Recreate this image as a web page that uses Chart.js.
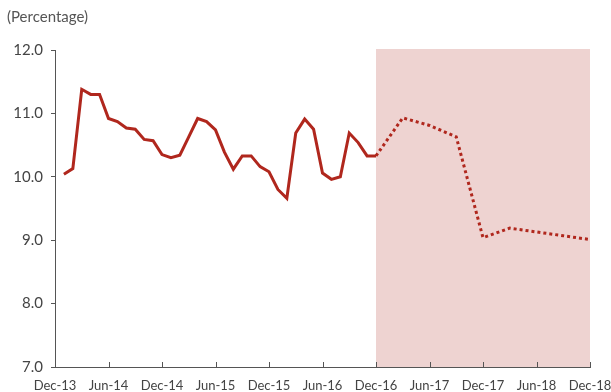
<!DOCTYPE html>
<html lang="en">
<head>
    <meta charset="UTF-8">
    <script src="https://cdn.jsdelivr.net/npm/chart.js"></script>
    <title>chart</title>
    <style>
        body{ margin:0; background:#fff; }
        #chart_area{ width:611px; height:392px; }
    </style>
</head>
<body>
    <div id="chart_area">
        <canvas id="mychart"></canvas>
    </div>
    <script>
        // x = months since Dec-13
        let tickLabels = ["Dec-13","Jun-14","Dec-14","Jun-15","Dec-15","Jun-16","Dec-16","Jun-17","Dec-17","Jun-18","Dec-18"];
        // monthly actuals, Jan-14 .. Dec-16
        let actual = [10.04,10.13,11.38,11.30,11.30,10.92,10.87,10.77,10.75,10.59,10.57,10.35,
                      10.30,10.34,10.63,10.92,10.87,10.74,10.39,10.12,10.33,10.33,10.16,10.08,
                      9.80,9.66,10.69,10.91,10.75,10.06,9.96,10.00,10.69,10.54,10.33,10.33];
        // quarterly projection, Dec-16 .. Dec-18
        let projMonths = [36,39,42,45,48,51,54,57,60];
        let projection = [10.33,10.93,10.81,10.63,9.04,9.19,9.13,9.07,9.01];
        let shadeFrom = 36, shadeTo = 60;

        let lineColor = "#b0271d";
        let axisColor = "#555";

        let extras = {
            id:"extras",
            beforeDatasetsDraw(chart){
                let c = chart.ctx, x = chart.scales.x, a = chart.chartArea;
                c.save();
                c.fillStyle = "#eed3d1";
                let x0 = x.getPixelForValue(shadeFrom), x1 = x.getPixelForValue(shadeTo);
                c.fillRect(x0, a.top - 1, x1 - x0, a.bottom - a.top + 1);
                c.restore();
            },
            afterDraw(chart){
                let c = chart.ctx, x = chart.scales.x, a = chart.chartArea;
                c.save();
                c.strokeStyle = axisColor;
                c.lineWidth = 1;
                for(let m = 6; m <= 60; m += 6){
                    let px = Math.round(x.getPixelForValue(m)) + 0.5;
                    c.beginPath();
                    c.moveTo(px, a.bottom);
                    c.lineTo(px, a.bottom - 5);
                    c.stroke();
                }
                c.fillStyle = "#555";
                c.font = "15px Lato";
                c.textBaseline = "middle";
                c.fillText("(Percentage)", 7, 17);
                c.restore();
            }
        };

        let config = {
            type:"line",
            data:{
                datasets:[
                {
                    data: actual.map((v,i)=>({x:i+1, y:v})),
                    borderColor: lineColor,
                    borderWidth: 3,
                    pointRadius: 0,
                    tension: 0,
                },
                {
                    data: projMonths.map((m,i)=>({x:m, y:projection[i]})),
                    borderColor: lineColor,
                    borderWidth: 3,
                    borderDash: [3,3],
                    borderCapStyle: "butt",
                    pointRadius: 0,
                    tension: 0,
                }]
            },
            options:{
                responsive:true,
                maintainAspectRatio:false,
                animation:false,
                layout:{ padding:{ top:50, right:21, left:0, bottom:0 } },
                plugins:{ legend:{ display:false }, tooltip:{ enabled:false } },
                scales:{
                    x:{
                        type:"linear", min:0, max:60,
                        afterFit(s){ s.height = 25; s.paddingRight = 0; s.paddingLeft = 0; },
                        border:{ display:true, color:axisColor, width:1 },
                        grid:{ display:false },
                        afterBuildTicks(s){ s.ticks = tickLabels.map((t,i)=>({value:i*6})); },
                        ticks:{
                            autoSkip:false, maxRotation:0, padding:3,
                            color:"#444", font:{ family:"Lato", size:13 },
                            callback:(v)=>tickLabels[v/6]
                        }
                    },
                    y:{
                        min:7, max:12,
                        afterFit(s){ s.width = 55; },
                        border:{ display:true, color:axisColor, width:1 },
                        grid:{ drawOnChartArea:false, drawTicks:true, tickLength:4, color:axisColor },
                        ticks:{
                            stepSize:1, padding:8,
                            color:"#444", font:{ family:"Lato", size:15 },
                            callback:(v)=>v.toFixed(1)
                        }
                    }
                }
            },
            plugins:[extras]
        };

        let chart = new Chart(document.querySelector("#mychart"), config);
    </script>
</body>
</html>
